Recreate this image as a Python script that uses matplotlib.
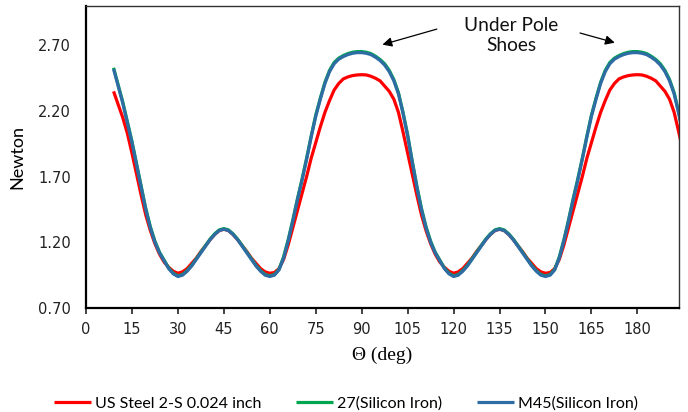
import matplotlib

matplotlib.use("Agg")
import matplotlib.pyplot as plt
import numpy as np

# angle grid (deg), one reading every 1.5 deg from 9 to 195
theta = np.arange(9, 195.1, 1.5)

# cogging force readings (N), rows: 9-30, 31.5-60, 61.5-90, 91.5-120,
# 121.5-150, 151.5-180, 181.5-195
us_steel = [
    2.35, 2.25, 2.15, 2.03, 1.88, 1.72, 1.56, 1.41, 1.29, 1.19, 1.11, 1.05, 1.01, 0.98, 0.965,
    0.975, 1.00, 1.04, 1.08, 1.13, 1.175, 1.22, 1.26, 1.29, 1.30, 1.29, 1.26, 1.22, 1.175, 1.13, 1.08, 1.04, 1.00, 0.975, 0.965,
    0.97, 1.00, 1.07, 1.18, 1.31, 1.44, 1.57, 1.70, 1.84, 1.96, 2.08, 2.19, 2.28, 2.36, 2.41, 2.445, 2.46, 2.47, 2.475, 2.477,
    2.475, 2.465, 2.45, 2.43, 2.39, 2.35, 2.29, 2.19, 2.04, 1.88, 1.72, 1.56, 1.41, 1.29, 1.19, 1.11, 1.05, 1.01, 0.98, 0.965,
    0.975, 1.00, 1.04, 1.08, 1.13, 1.175, 1.22, 1.26, 1.29, 1.30, 1.29, 1.26, 1.22, 1.175, 1.13, 1.08, 1.04, 1.00, 0.975, 0.965,
    0.97, 1.00, 1.07, 1.18, 1.31, 1.44, 1.57, 1.70, 1.84, 1.96, 2.08, 2.19, 2.28, 2.36, 2.41, 2.445, 2.46, 2.47, 2.475, 2.477,
    2.475, 2.465, 2.45, 2.43, 2.39, 2.35, 2.29, 2.19, 2.04, 1.88,
]
si_27 = [
    2.53, 2.40, 2.27, 2.12, 1.97, 1.80, 1.63, 1.46, 1.32, 1.21, 1.125, 1.065, 1.005, 0.965, 0.945,
    0.955, 0.985, 1.025, 1.075, 1.125, 1.175, 1.225, 1.265, 1.295, 1.305, 1.295, 1.265, 1.225, 1.175, 1.125, 1.075, 1.025, 0.985, 0.955, 0.945,
    0.955, 0.995, 1.09, 1.22, 1.37, 1.53, 1.68, 1.84, 2.01, 2.17, 2.30, 2.42, 2.51, 2.57, 2.603, 2.623, 2.638, 2.648, 2.653, 2.653,
    2.648, 2.638, 2.618, 2.593, 2.56, 2.51, 2.44, 2.34, 2.19, 2.02, 1.82, 1.63, 1.46, 1.32, 1.21, 1.125, 1.065, 1.005, 0.965, 0.945,
    0.955, 0.985, 1.025, 1.075, 1.125, 1.175, 1.225, 1.265, 1.295, 1.305, 1.295, 1.265, 1.225, 1.175, 1.125, 1.075, 1.025, 0.985, 0.955, 0.945,
    0.955, 0.995, 1.09, 1.22, 1.37, 1.53, 1.68, 1.84, 2.01, 2.17, 2.30, 2.42, 2.51, 2.57, 2.603, 2.623, 2.638, 2.648, 2.653, 2.653,
    2.648, 2.638, 2.618, 2.593, 2.56, 2.51, 2.44, 2.34, 2.19, 2.02,
]
m45 = [
    2.52, 2.39, 2.26, 2.11, 1.96, 1.79, 1.62, 1.45, 1.31, 1.20, 1.12, 1.06, 1.00, 0.96, 0.94,
    0.95, 0.98, 1.02, 1.07, 1.12, 1.17, 1.22, 1.26, 1.29, 1.30, 1.29, 1.26, 1.22, 1.17, 1.12, 1.07, 1.02, 0.98, 0.95, 0.94,
    0.95, 0.99, 1.08, 1.21, 1.36, 1.52, 1.67, 1.83, 2.00, 2.16, 2.29, 2.41, 2.50, 2.56, 2.595, 2.615, 2.63, 2.64, 2.645, 2.645,
    2.64, 2.63, 2.61, 2.585, 2.55, 2.50, 2.43, 2.33, 2.18, 2.01, 1.81, 1.62, 1.45, 1.31, 1.20, 1.12, 1.06, 1.00, 0.96, 0.94,
    0.95, 0.98, 1.02, 1.07, 1.12, 1.17, 1.22, 1.26, 1.29, 1.30, 1.29, 1.26, 1.22, 1.17, 1.12, 1.07, 1.02, 0.98, 0.95, 0.94,
    0.95, 0.99, 1.08, 1.21, 1.36, 1.52, 1.67, 1.83, 2.00, 2.16, 2.29, 2.41, 2.50, 2.56, 2.595, 2.615, 2.63, 2.64, 2.645, 2.645,
    2.64, 2.63, 2.61, 2.585, 2.55, 2.50, 2.43, 2.33, 2.18, 2.01,
]

labels = ["US Steel 2-S 0.024 inch", "27(Silicon Iron)", "M45(Silicon Iron)"]
colors = ["#FF0000", "#00A64F", "#2E6CA4"]
x_ticks = list(range(0, 181, 15))
y_ticks = [0.70, 1.20, 1.70, 2.20, 2.70]

plt.rcParams["font.family"] = ["Lato", "DejaVu Sans"]

fig = plt.figure(figsize=(6.88, 4.12), dpi=100)
ax = fig.add_axes([0.125, 0.2524, 0.862, 0.733])

for series, label, color in zip([us_steel, si_27, m45], labels, colors):
    ax.plot(theta, series, color=color, linewidth=2.3, label=label,
            solid_joinstyle="round", solid_capstyle="butt")

ax.set_xlim(0, 193.6)
ax.set_ylim(0.70, 3.0)
ax.set_xticks(x_ticks)
ax.set_yticks(y_ticks)
ax.set_yticklabels([f"{v:.2f}" for v in y_ticks])
ax.tick_params(axis="x", direction="out", length=4, width=1.2, pad=6,
               labelsize=10.5, colors="#222222")
ax.tick_params(axis="y", length=0, pad=11, labelsize=10.5, colors="#222222")
for lab in ax.get_xticklabels() + ax.get_yticklabels():
    lab.set_family(["DejaVu Sans"])

for side in ["left", "bottom"]:
    ax.spines[side].set_linewidth(1.6)
    ax.spines[side].set_color("black")
for side in ["top", "right"]:
    ax.spines[side].set_linewidth(1.0)
    ax.spines[side].set_color("#333333")

ax.set_ylabel("Newton", fontsize=13, labelpad=9)
ax.set_xlabel("Θ (deg)", fontsize=14, family=["Liberation Serif"], labelpad=7)

ax.text(138.9, 2.776, "Under Pole\nShoes", ha="center", va="center",
        fontsize=13.8, linespacing=1.2, color="#111111")
arrow = dict(arrowstyle="-|>", color="black", lw=0.9, mutation_scale=14)
ax.annotate("", xy=(95.9, 2.70), xytext=(115.4, 2.83), arrowprops=arrow)
ax.annotate("", xy=(173.5, 2.715), xytext=(160.4, 2.80), arrowprops=arrow)

fig.legend(loc="center", bbox_to_anchor=(0.503, 0.02), ncol=3, frameon=False,
           fontsize=11.5, handlelength=2.3, handletextpad=0.25, columnspacing=2.2)

fig.savefig("out.png", dpi=100)
